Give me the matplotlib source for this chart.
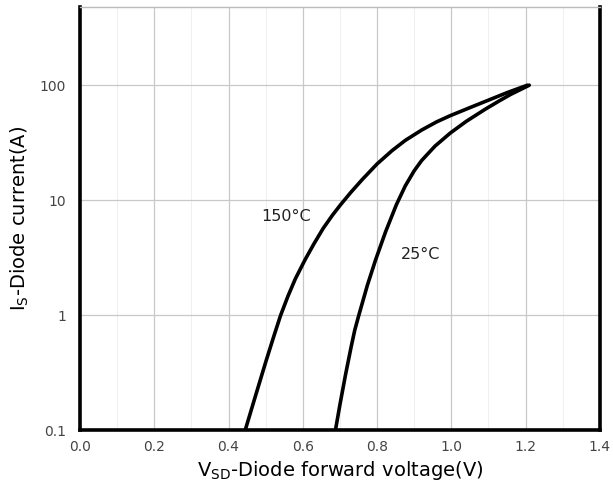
import matplotlib
matplotlib.use("Agg")
import matplotlib.pyplot as plt
from matplotlib.ticker import FixedLocator, FixedFormatter, NullLocator, MultipleLocator

plt.rcParams["font.family"] = ["DejaVu Sans"]
plt.rcParams["mathtext.fontset"] = "dejavusans"

# Forward characteristic of the body diode at two junction temperatures
v_150 = [0.445, 0.47, 0.50, 0.52, 0.54, 0.56, 0.58, 0.607, 0.63, 0.655, 0.68,
         0.703, 0.73, 0.76, 0.80, 0.84, 0.876, 0.92, 0.96, 0.997, 1.05, 1.10,
         1.15, 1.205]
i_150 = [0.1, 0.186, 0.389, 0.625, 0.99, 1.46, 2.07, 3.07, 4.17, 5.69, 7.41,
         9.23, 11.75, 15.1, 20.65, 26.9, 33.1, 40.7, 47.9, 54.3, 63.8, 74.1,
         86.1, 100.0]

v_25 = [0.688, 0.70, 0.715, 0.73, 0.74, 0.751, 0.774, 0.796, 0.823, 0.852,
        0.876, 0.90, 0.92, 0.956, 0.997, 1.04, 1.091, 1.13, 1.16, 1.21]
i_25 = [0.1, 0.166, 0.302, 0.525, 0.741, 1.0, 1.82, 3.02, 5.31, 9.12,
        13.3, 18.0, 22.1, 29.5, 38.3, 48.4, 61.7, 73.3, 83.2, 100.0]

x_ticks = [0.0, 0.2, 0.4, 0.6, 0.8, 1.0, 1.2, 1.4]
x_labels = ["0.0", "0.2", "0.4", "0.6", "0.8", "1.0", "1.2", "1.4"]
y_ticks = [0.1, 1, 10, 100]
y_labels = ["0.1", "1", "10", "100"]

fig = plt.figure(figsize=(6.13, 4.91), dpi=100)
ax = fig.add_axes([0.1305, 0.124, 0.848, 0.862])

ax.plot(v_150, i_150, color="black", lw=2.6, solid_capstyle="round", solid_joinstyle="round")
ax.plot(v_25, i_25, color="black", lw=2.6, solid_capstyle="round", solid_joinstyle="round")

ax.set_yscale("log")
ax.set_xlim(0, 1.4)
ax.set_ylim(0.1, 480)

ax.xaxis.set_major_locator(FixedLocator(x_ticks))
ax.xaxis.set_major_formatter(FixedFormatter(x_labels))
ax.xaxis.set_minor_locator(MultipleLocator(0.1))
ax.yaxis.set_major_locator(FixedLocator(y_ticks))
ax.yaxis.set_major_formatter(FixedFormatter(y_labels))
ax.yaxis.set_minor_locator(NullLocator())

ax.grid(True, which="major", color="#c8c8c8", lw=0.9)
ax.grid(True, which="minor", axis="x", color="#f0f0f0", lw=0.8)
ax.set_axisbelow(True)
ax.tick_params(which="both", length=0, labelsize=10, labelcolor="#444444")
ax.tick_params(axis="x", pad=7)
ax.tick_params(axis="y", pad=10)

for side in ("left", "bottom", "right"):
    ax.spines[side].set_linewidth(2.6)
    ax.spines[side].set_color("black")
ax.spines["top"].set_linewidth(1.0)
ax.spines["top"].set_color("#bbbbbb")

ax.text(0.554, 7.2, "150°C", fontsize=11.5, color="#222222", ha="center", va="center")
ax.text(0.917, 3.4, "25°C", fontsize=11.5, color="#222222", ha="center", va="center")

ax.set_xlabel(r"V$_{\mathregular{SD}}$-Diode forward voltage(V)", fontsize=14, labelpad=4)
ax.set_ylabel(r"I$_{\mathregular{S}}$-Diode current(A)", fontsize=14, labelpad=6)

fig.savefig("out.png", dpi=100)
